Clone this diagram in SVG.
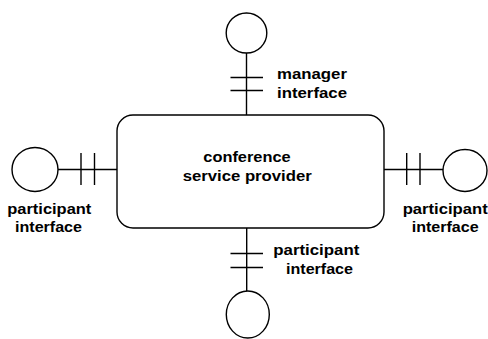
<svg xmlns="http://www.w3.org/2000/svg" width="488" height="339" viewBox="0 0 488 339">
<style>
.s{fill:#fff;stroke:#000;stroke-width:1.4}
.c{stroke:#000;stroke-width:1.4;fill:none}
text{font-family:"Liberation Sans",Arial,sans-serif;font-weight:bold;font-size:14px;fill:#000}
</style>
<rect width="488" height="339" fill="#fff"/>
<g id="connectors">
<line class="c" x1="246.5" y1="53" x2="246.5" y2="115"/>
<line class="c" x1="230.5" y1="77.5" x2="263" y2="77.5"/>
<line class="c" x1="230.5" y1="90.5" x2="263" y2="90.5"/>
<line class="c" x1="58" y1="169.5" x2="117" y2="169.5"/>
<line class="c" x1="81" y1="153" x2="81" y2="185"/>
<line class="c" x1="94.5" y1="153" x2="94.5" y2="185"/>
<line class="c" x1="384" y1="169.5" x2="443" y2="169.5"/>
<line class="c" x1="406.7" y1="153" x2="406.7" y2="185"/>
<line class="c" x1="420" y1="153" x2="420" y2="185"/>
<line class="c" x1="246.7" y1="228" x2="246.7" y2="291"/>
<line class="c" x1="230.5" y1="253.5" x2="263" y2="253.5"/>
<line class="c" x1="230.5" y1="267.5" x2="263" y2="267.5"/>
</g>
<g id="provider">
<rect class="s" x="117" y="115" width="267" height="113" rx="16"/>
<text x="203.3" y="162" textLength="87.3" lengthAdjust="spacingAndGlyphs">conference</text>
<text x="182.7" y="181" textLength="129" lengthAdjust="spacingAndGlyphs">service provider</text>
</g>
<g id="manager">
<ellipse class="s" cx="246.5" cy="33" rx="20.3" ry="20"/>
<text x="277" y="79" textLength="70" lengthAdjust="spacingAndGlyphs">manager</text>
<text x="277" y="97.5" textLength="70" lengthAdjust="spacingAndGlyphs">interface</text>
</g>
<g id="participant-left">
<ellipse class="s" cx="35" cy="169.5" rx="23" ry="22"/>
<text x="7.3" y="214" textLength="84" lengthAdjust="spacingAndGlyphs">participant</text>
<text x="15" y="232" textLength="67" lengthAdjust="spacingAndGlyphs">interface</text>
</g>
<g id="participant-right">
<ellipse class="s" cx="465" cy="170.5" rx="22" ry="21"/>
<text x="402.7" y="214" textLength="85" lengthAdjust="spacingAndGlyphs">participant</text>
<text x="411.7" y="232" textLength="67" lengthAdjust="spacingAndGlyphs">interface</text>
</g>
<g id="participant-bottom">
<ellipse class="s" cx="247.8" cy="314.5" rx="21.5" ry="23.5"/>
<text x="273.3" y="255" textLength="86" lengthAdjust="spacingAndGlyphs">participant</text>
<text x="286" y="273.5" textLength="67" lengthAdjust="spacingAndGlyphs">interface</text>
</g>
</svg>
